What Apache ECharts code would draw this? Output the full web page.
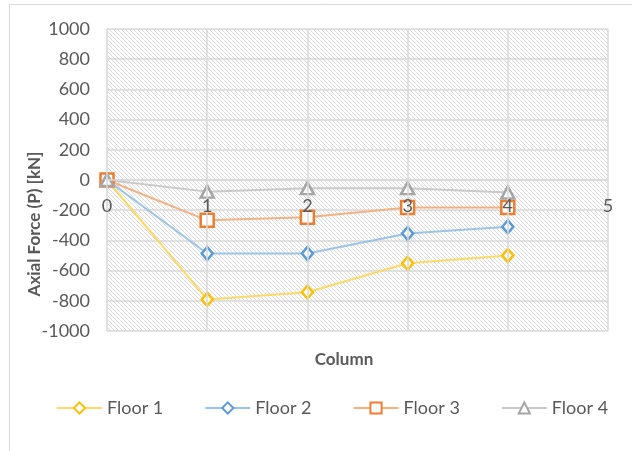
<!DOCTYPE html>
<html>
<head>
<meta charset="utf-8">
<script src="https://cdn.jsdelivr.net/npm/echarts@6/dist/echarts.min.js"></script>
<style>
html,body{margin:0;padding:0;background:#fff;}
#chart{width:632px;height:451px;}
</style>
</head>
<body>
<div id="chart"></div>
<script>
var columns = [0, 1, 2, 3, 4];
var floor1 = [0, -791, -743, -551, -500];
var floor2 = [0, -487, -487, -354, -310];
var floor3 = [0, -267, -247, -182, -182];
var floor4 = [0, -77, -54, -54, -83];
var seriesNames = ['Floor 1', 'Floor 2', 'Floor 3', 'Floor 4'];

function pairs(vals) {
  return columns.map(function (c, i) { return [c, vals[i]]; });
}

var tile = document.createElement('canvas');
tile.width = 8; tile.height = 8;
var g = tile.getContext('2d');
g.fillStyle = '#ffffff';
g.fillRect(0, 0, 8, 8);
g.strokeStyle = '#dadada';
g.lineWidth = 1;
[-8, -4, 0, 4, 8].forEach(function (x0) {
  g.beginPath();
  g.moveTo(x0, 0);
  g.lineTo(x0 + 8, 8);
  g.stroke();
});

var font = 'Lato, "Liberation Sans", sans-serif';
var txt = '#595959';
var gridColor = '#d9d9d9';

function mk(name, vals, symbol, size, mColor, lColor, bw) {
  return {
    name: name,
    type: 'line',
    z: 2,
    data: pairs(vals),
    symbol: symbol,
    symbolSize: size,
    showAllSymbol: true,
    lineStyle: { color: lColor, width: 2 },
    itemStyle: { color: '#ffffff', borderColor: mColor, borderWidth: bw },
    emphasis: { disabled: true },
    animation: false
  };
}

var chart = echarts.init(document.getElementById('chart'));
chart.setOption({
  backgroundColor: '#ffffff',
  animation: false,
  grid: {
    left: 107, right: 24, top: 29, bottom: 120,
    show: true,
    backgroundColor: { image: tile, repeat: 'repeat' },
    borderWidth: 0
  },
  xAxis: {
    type: 'value', min: 0, max: 5, interval: 1,
    position: 'bottom',
    offset: -151,
    z: 5,
    axisLine: { show: true, onZero: false, lineStyle: { color: gridColor, width: 1.5 } },
    axisTick: { show: false },
    axisLabel: { color: txt, fontFamily: font, fontSize: 18, margin: 17 },
    splitLine: { show: true, lineStyle: { color: gridColor, width: 1.5 } }
  },
  yAxis: {
    type: 'value', min: -1000, max: 1000, interval: 200,
    axisLine: { show: false, onZero: false },
    axisTick: { show: false },
    axisLabel: { color: txt, fontFamily: font, fontSize: 18, margin: 17,
      formatter: function (v) { return String(v); } },
    splitLine: { show: true, lineStyle: { color: gridColor, width: 1.5 } }
  },
  legend: {
    data: seriesNames,
    left: 51, top: 394,
    itemWidth: 45, itemHeight: 14, itemGap: 41,
    textStyle: { color: txt, fontFamily: font, fontSize: 18 }
  },
  graphic: [
    { type: 'rect', silent: true, z: -10,
      shape: { x: 9.5, y: 4.5, width: 700, height: 600 },
      style: { fill: null, stroke: '#d9d9d9', lineWidth: 1 } },
    { type: 'text', x: 344, y: 360, silent: true,
      style: { text: 'Column', fill: txt, font: 'bold 17px ' + font, align: 'center', verticalAlign: 'middle' } },
    { type: 'text', x: 35, y: 224, rotation: Math.PI / 2, silent: true,
      style: { text: 'Axial Force (P) [kN]', fill: txt, font: 'bold 17px ' + font, align: 'center', verticalAlign: 'middle' } }
  ],
  series: [
    mk('Floor 1', floor1, 'diamond', [11, 13], '#ffc000', '#ffd966', 2.5),
    mk('Floor 2', floor2, 'diamond', [11, 13], '#5b9bd5', '#9dc3e6', 2.5),
    mk('Floor 3', floor3, 'rect', 13, '#ed7d31', '#f4b183', 2.5),
    mk('Floor 4', floor4, 'triangle', [13, 12], '#a5a5a5', '#c9c9c9', 2.5)
  ]
});
</script>
</body>
</html>
